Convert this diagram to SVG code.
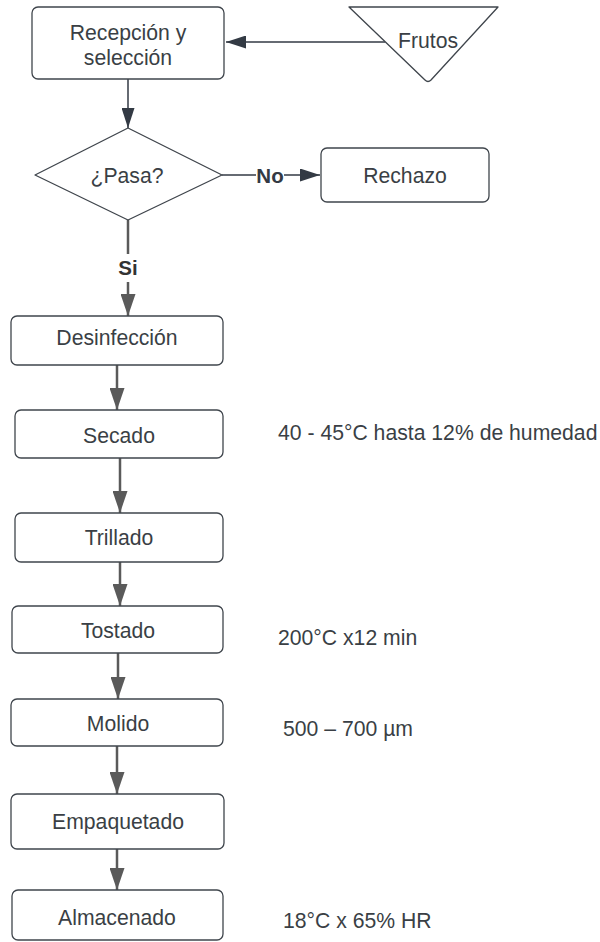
<svg xmlns="http://www.w3.org/2000/svg" width="600" height="942" viewBox="0 0 600 942">
<defs>
<style>
.box{fill:#fff;stroke:#3f454c;stroke-width:1.3}
.t{font-family:"Liberation Sans",Arial,sans-serif;font-size:21.2px;fill:#3a3f45;text-anchor:middle;dominant-baseline:central}
.side{font-family:"Liberation Sans",Arial,sans-serif;font-size:21.2px;fill:#3a3f45;dominant-baseline:central}
.lbl{font-family:"Liberation Sans",Arial,sans-serif;font-size:20.5px;font-weight:bold;fill:#333a44;text-anchor:middle;dominant-baseline:central}
.dk{fill:none;stroke:#333a44;stroke-width:1.5}
.gr{fill:none;stroke:#5a5a5a;stroke-width:2.5}
</style>
<marker id="ad" markerUnits="userSpaceOnUse" markerWidth="20" markerHeight="13" refX="20" refY="6.5" orient="auto">
<path d="M0,0 L20,6.5 L0,13 Z" fill="#333a44"/>
</marker>
<marker id="ag" markerUnits="userSpaceOnUse" markerWidth="22" markerHeight="15" refX="22" refY="7.5" orient="auto">
<path d="M0,0 L22,7.5 L0,15 Z" fill="#5a5a5a"/>
</marker>
</defs>
<rect width="600" height="942" fill="#fff"/>
<g id="connectors">
<line class="dk" x1="385" y1="42" x2="226" y2="42" marker-end="url(#ad)"/>
<line class="dk" x1="128" y1="79" x2="128" y2="128" marker-end="url(#ad)"/>
<line class="dk" x1="222" y1="175" x2="256" y2="175"/>
<line class="dk" x1="284" y1="175" x2="320" y2="175" marker-end="url(#ad)"/>
<text class="lbl" x="270" y="175">No</text>
<line class="gr" x1="128" y1="220" x2="128" y2="254"/>
<line class="gr" x1="128" y1="282" x2="128" y2="316" marker-end="url(#ag)"/>
<text class="lbl" x="128" y="267" style="fill:#333">Si</text>
<line class="gr" x1="117" y1="365" x2="117" y2="410" marker-end="url(#ag)"/>
<line class="gr" x1="120" y1="458" x2="120" y2="513" marker-end="url(#ag)"/>
<line class="gr" x1="120" y1="562" x2="120" y2="606" marker-end="url(#ag)"/>
<line class="gr" x1="118" y1="653" x2="118" y2="699" marker-end="url(#ag)"/>
<line class="gr" x1="117" y1="746" x2="117" y2="794" marker-end="url(#ag)"/>
<line class="gr" x1="117" y1="849" x2="117" y2="890" marker-end="url(#ag)"/>
</g>
<g id="recepcion">
<rect class="box" x="32" y="7" width="192" height="72" rx="6"/>
<text class="t" x="128" y="32">Recepción y</text>
<text class="t" x="128" y="57">selección</text>
</g>
<g id="frutos">
<path class="box" d="M349,7 L498,7 L431,80 Q428,83 425,80 Z" stroke-linejoin="round"/>
<text class="t" x="428" y="40">Frutos</text>
</g>
<g id="pasa">
<path class="box" d="M128,128 L222,175 L128,220 L35,175 Z" stroke-linejoin="round"/>
<text class="t" x="127" y="175">¿Pasa?</text>
</g>
<g id="rechazo">
<rect class="box" x="321" y="148" width="168" height="54" rx="6"/>
<text class="t" x="405" y="175">Rechazo</text>
</g>
<g id="desinfeccion">
<rect class="box" x="11" y="316" width="212" height="49" rx="6"/>
<text class="t" x="117" y="337">Desinfección</text>
</g>
<g id="secado">
<rect class="box" x="15" y="410" width="208" height="48" rx="6"/>
<text class="t" x="119" y="435">Secado</text>
</g>
<g id="trillado">
<rect class="box" x="15" y="513" width="208" height="49" rx="6"/>
<text class="t" x="119" y="537">Trillado</text>
</g>
<g id="tostado">
<rect class="box" x="12" y="606" width="211" height="47" rx="6"/>
<text class="t" x="118" y="630">Tostado</text>
</g>
<g id="molido">
<rect class="box" x="11" y="699" width="212" height="47" rx="6"/>
<text class="t" x="118" y="723">Molido</text>
</g>
<g id="empaquetado">
<rect class="box" x="11" y="794" width="213" height="55" rx="6"/>
<text class="t" x="118" y="821">Empaquetado</text>
</g>
<g id="almacenado">
<rect class="box" x="12" y="890" width="211" height="50" rx="6"/>
<text class="t" x="117" y="917">Almacenado</text>
</g>
<g id="notes">
<text class="side" x="278" y="432">40 - 45°C hasta 12% de humedad</text>
<text class="side" x="278" y="637">200°C x12 min</text>
<text class="side" x="283" y="728">500 – 700 µm</text>
<text class="side" x="283" y="920">18°C x 65% HR</text>
</g>
</svg>
